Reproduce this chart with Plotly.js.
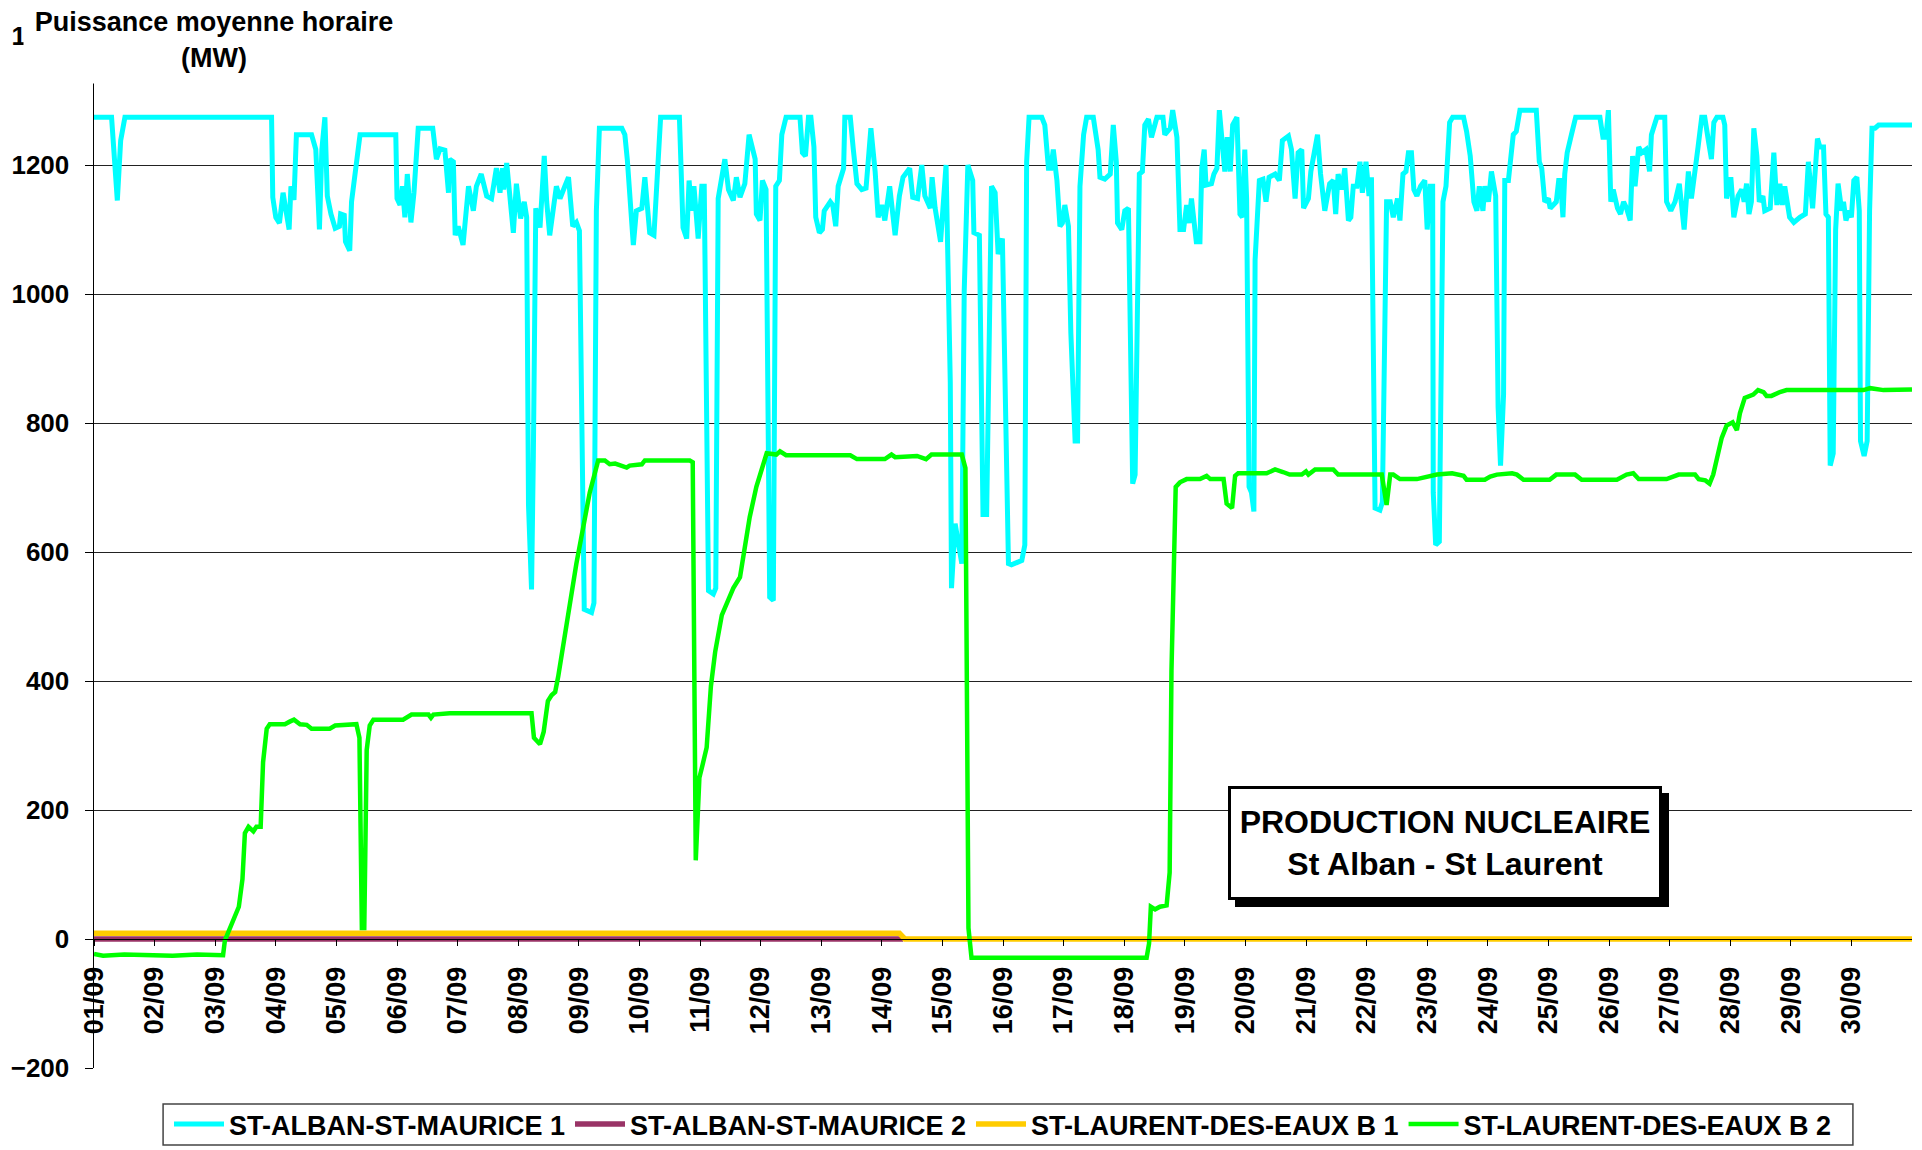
<!DOCTYPE html>
<html>
<head>
<meta charset="utf-8">
<script src="https://cdn.plot.ly/plotly-3.0.1.min.js"></script>
<style>html,body{margin:0;padding:0;background:#fff;}#chart{width:1922px;height:1150px;}</style>
</head>
<body>
<div id="chart"></div>
<script>
// Day offsets from 01/09 00:00 and hourly mean power (MW)
const seriesNames = ["ST-ALBAN-ST-MAURICE 1", "ST-ALBAN-ST-MAURICE 2", "ST-LAURENT-DES-EAUX B 1", "ST-LAURENT-DES-EAUX B 2"];
const tickDays = [0,1,2,3,4,5,6,7,8,9,10,11,12,13,14,15,16,17,18,19,20,21,22,23,24,25,26,27,28,29];
const tickLabels = ["01/09","02/09","03/09","04/09","05/09","06/09","07/09","08/09","09/09","10/09","11/09","12/09","13/09","14/09","15/09","16/09","17/09","18/09","19/09","20/09","21/09","22/09","23/09","24/09","25/09","26/09","27/09","28/09","29/09","30/09"];

const alban1Day = [0,0.29,0.385,0.44,0.51,2.93,2.95,3.0,3.06,3.12,3.22,3.25,3.30,3.34,3.59,3.66,3.72,3.76,3.81,3.85,3.91,3.98,4.05,4.07,4.13,4.15,4.22,4.25,4.39,4.98,5.0,5.05,5.09,5.13,5.17,5.23,5.28,5.35,5.59,5.65,5.71,5.79,5.85,5.87,5.93,5.96,6.01,6.09,6.18,6.26,6.31,6.39,6.48,6.56,6.64,6.70,6.74,6.76,6.81,6.92,6.97,7.04,7.10,7.14,7.17,7.22,7.25,7.29,7.36,7.43,7.47,7.52,7.63,7.69,7.77,7.83,7.90,7.96,8.01,8.05,8.09,8.21,8.25,8.29,8.34,8.71,8.76,8.80,8.90,8.95,9.04,9.09,9.17,9.24,9.31,9.35,9.66,9.72,9.78,9.82,9.86,9.90,9.97,10.03,10.07,10.14,10.22,10.26,10.30,10.36,10.41,10.47,10.55,10.60,10.66,10.74,10.81,10.91,10.93,10.99,11.03,11.09,11.15,11.21,11.25,11.31,11.35,11.42,11.65,11.69,11.74,11.79,11.83,11.88,11.91,11.97,12.02,12.05,12.15,12.19,12.24,12.28,12.37,12.39,12.48,12.53,12.59,12.67,12.74,12.82,12.89,12.94,13.0,13.05,13.13,13.22,13.29,13.35,13.46,13.51,13.59,13.66,13.71,13.80,13.83,13.88,13.97,14.06,14.13,14.15,14.21,14.26,14.32,14.36,14.42,14.50,14.52,14.61,14.67,14.73,14.81,14.87,14.92,14.99,15.09,15.14,15.31,15.36,15.39,15.43,15.64,15.69,15.75,15.79,15.83,15.89,15.94,15.98,16.02,16.08,16.12,16.19,16.23,16.27,16.33,16.38,16.49,16.57,16.60,16.68,16.77,16.82,16.87,16.89,16.96,17.01,17.07,17.14,17.18,17.25,17.30,17.34,17.40,17.45,17.54,17.64,17.67,17.76,17.80,17.87,17.92,17.98,18.03,18.07,18.11,18.19,18.25,18.28,18.32,18.35,18.44,18.48,18.53,18.57,18.61,18.66,18.70,18.75,18.79,18.86,18.91,18.95,18.99,19.02,19.06,19.10,19.14,19.16,19.23,19.29,19.34,19.39,19.49,19.56,19.61,19.71,19.76,19.82,19.87,19.93,19.96,20.04,20.08,20.19,20.24,20.31,20.39,20.45,20.49,20.53,20.59,20.64,20.70,20.74,20.78,20.84,20.89,20.93,20.99,21.04,21.08,21.14,21.22,21.26,21.33,21.39,21.44,21.51,21.55,21.60,21.65,21.69,21.74,21.78,21.83,21.89,21.96,22.00,22.05,22.09,22.10,22.14,22.20,22.26,22.31,22.37,22.42,22.60,22.65,22.71,22.77,22.82,22.86,22.92,22.95,23.01,23.06,23.13,23.17,23.21,23.26,23.28,23.34,23.38,23.42,23.47,23.53,23.80,23.85,23.89,23.94,24.00,24.03,24.13,24.17,24.20,24.24,24.27,24.31,24.38,24.45,24.85,24.90,24.95,24.99,25.03,25.07,25.14,25.19,25.24,25.29,25.35,25.39,25.43,25.49,25.54,25.61,25.67,25.70,25.79,25.92,25.95,26.02,26.09,26.16,26.24,26.31,26.36,26.42,26.47,26.53,26.58,26.64,26.69,26.73,26.78,26.88,26.91,26.94,27.01,27.06,27.13,27.19,27.23,27.27,27.31,27.35,27.39,27.44,27.48,27.54,27.57,27.66,27.72,27.77,27.82,27.86,27.90,27.98,28.05,28.15,28.24,28.29,28.36,28.44,28.48,28.54,28.58,28.62,28.65,28.70,28.74,28.78,28.84,28.87,28.91,28.96,29.00,29.04,29.09,29.13,29.15,29.21,29.26,29.30,29.34,29.39,29.45,30.0];
const alban1MW = [1274,1274,1145,1238,1274,1274,1150,1119,1110,1157,1100,1167,1146,1247,1247,1224,1100,1224,1274,1152,1124,1102,1105,1124,1122,1081,1067,1143,1247,1247,1148,1138,1167,1119,1186,1111,1157,1257,1257,1209,1225,1223,1157,1209,1205,1091,1105,1076,1167,1129,1167,1186,1152,1148,1195,1157,1195,1162,1203,1095,1171,1117,1143,1119,673,542,749,1133,1103,1214,1143,1091,1167,1148,1167,1181,1105,1111,1098,749,511,506,521,1129,1257,1257,1247,1209,1076,1129,1133,1181,1095,1091,1233,1274,1274,1103,1086,1176,1129,1167,1086,1167,1167,540,535,544,1148,1176,1209,1162,1145,1181,1150,1171,1247,1209,1124,1114,1176,1162,530,525,1167,1176,1247,1274,1274,1219,1214,1274,1274,1228,1119,1095,1100,1129,1143,1138,1105,1167,1195,1274,1274,1224,1171,1162,1164,1257,1190,1119,1138,1114,1167,1091,1152,1181,1195,1150,1148,1200,1152,1133,1181,1133,1081,1200,863,544,644,616,582,1005,1200,1176,1095,1091,658,658,1167,1157,1062,1086,582,580,587,611,1205,1274,1274,1262,1195,1195,1224,1176,1105,1110,1138,1105,939,772,772,1167,1247,1274,1274,1224,1181,1178,1186,1262,1205,1110,1100,1129,1133,706,720,1186,1190,1262,1271,1243,1274,1274,1247,1257,1285,1243,1100,1100,1138,1110,1148,1081,1081,1195,1224,1169,1171,1186,1195,1285,1243,1190,1243,1190,1262,1274,1124,1119,1224,1148,701,692,663,1053,1176,1178,1143,1181,1186,1176,1238,1245,1224,1148,1219,1224,1133,1148,1190,1247,1186,1129,1171,1176,1124,1186,1162,1195,1114,1119,1167,1167,1205,1157,1205,1152,1181,668,665,677,1143,1143,1119,1148,1114,1186,1190,1219,1219,1162,1152,1167,1176,1100,1167,1167,692,611,616,1143,1167,1266,1274,1274,1252,1214,1143,1129,1167,1129,1167,1143,1190,1152,825,734,844,1176,1176,1219,1247,1252,1285,1285,1205,1195,1143,1148,1133,1143,1176,1176,1119,1186,1219,1247,1274,1274,1243,1243,1285,1143,1162,1133,1124,1143,1133,1114,1214,1167,1228,1219,1224,1190,1247,1274,1274,1143,1129,1143,1171,1100,1190,1148,1200,1228,1274,1274,1238,1209,1266,1274,1274,1262,1148,1181,1119,1152,1162,1143,1171,1124,1143,1257,1214,1143,1152,1129,1133,1219,1138,1171,1138,1167,1119,1111,1119,1124,1205,1133,1241,1228,1228,1124,1119,734,753,1100,1171,1129,1143,1114,1129,1119,1176,1181,1129,772,749,772,1129,1257,1257,1262,1262];

const alban2Day = [0, 13.35];
const alban2MW = [0, 0];

const laurentB1Day = [0, 13.29, 13.38, 30];
const laurentB1MW = [9, 9, 0, 0];

const laurentB2Day = [0,0.15,0.5,0.9,1.3,1.7,2.1,2.13,2.16,2.22,2.30,2.39,2.45,2.49,2.55,2.63,2.68,2.75,2.79,2.85,2.90,3.15,3.23,3.30,3.40,3.51,3.59,3.89,3.98,4.33,4.38,4.42,4.46,4.50,4.55,4.61,5.10,5.24,5.52,5.56,5.60,5.87,7.22,7.26,7.36,7.42,7.49,7.55,7.61,7.66,7.96,8.18,8.32,8.43,8.51,8.60,8.79,8.84,9.04,9.09,9.83,9.88,9.93,9.99,10.04,10.11,10.18,10.25,10.36,10.47,10.55,10.66,10.74,10.82,10.93,11.10,11.26,11.32,11.42,12.48,12.59,13.05,13.16,13.22,13.58,13.73,13.82,14.32,14.38,14.43,14.48,17.37,17.41,17.44,17.51,17.59,17.70,17.75,17.78,17.82,17.85,17.92,18.03,18.25,18.36,18.42,18.64,18.69,18.78,18.83,18.88,19.35,19.49,19.62,19.73,19.93,20.00,20.04,20.15,20.45,20.53,21.25,21.29,21.33,21.39,21.44,21.55,21.83,22.16,22.41,22.60,22.65,22.95,23.04,23.15,23.40,23.48,23.59,24.02,24.13,24.44,24.55,25.13,25.29,25.40,25.49,25.95,26.15,26.42,26.48,26.59,26.66,26.72,26.86,26.94,27.04,27.11,27.16,27.24,27.38,27.46,27.55,27.60,27.68,27.82,27.93,29.20,29.31,29.53,30.0];
const laurentB2MW = [-23,-26,-24,-25,-26,-24,-25,-25,-2,12,27,50,93,164,174,167,174,174,274,326,333,333,337,340,333,332,326,326,331,333,312,17,17,293,331,340,340,348,348,343,348,350,350,312,302,321,369,378,383,407,582,692,742,742,736,737,731,734,736,742,742,739,122,250,269,297,392,445,502,525,544,561,611,654,701,753,751,756,750,750,744,744,751,747,749,744,751,751,730,17,-29,-29,-7,50,46,50,52,103,416,635,701,708,713,713,718,713,713,675,668,718,722,722,728,724,720,720,725,720,728,728,720,720,701,673,720,720,713,713,720,722,718,712,712,717,720,722,720,712,712,720,720,712,712,720,722,713,713,720,720,713,711,706,720,777,796,801,789,815,839,844,851,848,842,842,848,851,851,854,851,852];

const colors = ["#00FFFF", "#993366", "#FFCC00", "#00FF00"];
const widths = [5, 5.5, 5.5, 4.5];
const xs = [alban1Day, alban2Day, laurentB1Day, laurentB2Day];
const ys = [alban1MW, alban2MW, laurentB1MW, laurentB2MW];

const FONT = "Liberation Sans, Arial, Helvetica, sans-serif";

const traces = seriesNames.map((n, i) => ({
  type: "scatter", mode: "lines", name: n,
  x: xs[i], y: ys[i],
  line: {color: colors[i], width: widths[i], shape: "linear"},
  hoverinfo: "skip"
}));

const boxText = "<b>PRODUCTION NUCLEAIRE<br>St Alban - St Laurent</b>";

const layout = {
  width: 1922, height: 1150,
  margin: {l: 94, r: 10, t: 36, b: 82, pad: 0, autoexpand: false},
  paper_bgcolor: "#fff", plot_bgcolor: "#fff",
  font: {family: FONT, color: "#000"},
  showlegend: true,
  xaxis: {
    type: "linear", range: [0, 30],
    anchor: "free", position: 0.125,
    tickmode: "array", tickvals: tickDays, ticktext: tickLabels,
    tickangle: -90, ticks: "outside", ticklen: 6, tickwidth: 1, tickcolor: "#000",
    ticklabelstandoff: 10,
    tickfont: {family: FONT, size: 27, weight: "bold", color: "#000"},
    showgrid: false, zeroline: false,
    showline: true, linecolor: "#000", linewidth: 1,
    automargin: false, fixedrange: true
  },
  yaxis: {
    range: [-200, 1400], dtick: 200, tick0: 0,
    ticks: "outside", ticklen: 8, tickwidth: 1, tickcolor: "#000",
    ticklabelstandoff: 10,
    tickfont: {family: FONT, size: 26, weight: "bold", color: "#000"},
    showgrid: true, gridcolor: "#222", gridwidth: 1,
    zeroline: false,
    showline: true, linecolor: "#000", linewidth: 1.5,
    automargin: false, fixedrange: true
  },
  legend: {
    orientation: "h", x: 0.5, xanchor: "center", y: -0.0547, yanchor: "middle",
    bgcolor: "rgba(0,0,0,0)", borderwidth: 0,
    font: {family: FONT, size: 27, weight: "bold", color: "#000"},
    itemwidth: 50, traceorder: "normal"
  },
  shapes: [
    {type: "rect", xref: "paper", yref: "paper", x0: 0.038, x1: 0.9675, y0: -0.0746, y1: -0.0349,
     line: {color: "#444", width: 1.5}, fillcolor: "#fff", layer: "above"}
  ],
  annotations: [
    {xref: "paper", yref: "paper", x: 0.066, y: 1.0349, xanchor: "center", yanchor: "top",
     text: "<b>Puissance moyenne horaire<br>(MW)</b>", showarrow: false, yshift: 4,
     font: {family: FONT, size: 27, color: "#000"},
     bgcolor: "#fff", borderpad: 6, width: 368, height: 74, align: "center"},
    {xref: "paper", yref: "paper", x: 0.743, y: 0.218, xanchor: "center", yanchor: "middle",
     text: boxText, showarrow: false, xshift: 7, yshift: -7,
     font: {family: FONT, size: 32, color: "#000"},
     bgcolor: "#000", bordercolor: "#000", borderwidth: 3, borderpad: 4, width: 420, height: 100, align: "center"},
    {xref: "paper", yref: "paper", x: 0.743, y: 0.218, xanchor: "center", yanchor: "middle",
     text: boxText, showarrow: false,
     font: {family: FONT, size: 32, color: "#000"},
     bgcolor: "#fff", bordercolor: "#000", borderwidth: 3, borderpad: 4, width: 420, height: 100, align: "center"}
  ]
};

Plotly.newPlot("chart", traces, layout, {displayModeBar: false, staticPlot: true});
</script>
</body>
</html>
